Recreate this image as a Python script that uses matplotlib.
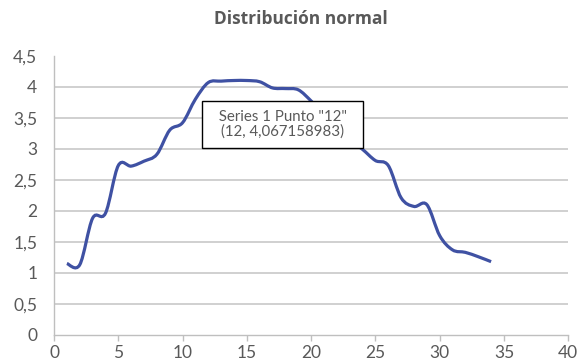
import numpy as np
import matplotlib.pyplot as plt
from matplotlib.path import Path
from matplotlib.patches import PathPatch

# datos de la serie
x = np.arange(1, 35)
y = [1.15, 1.13, 1.88, 1.96, 2.73, 2.72, 2.80, 2.91, 3.30, 3.42,
     3.80, 4.067158983, 4.09, 4.10, 4.10, 4.08, 3.98, 3.97, 3.95, 3.77,
     3.55, 3.35, 3.15, 2.99, 2.81, 2.73, 2.21, 2.07, 2.10, 1.60,
     1.37, 1.33, 1.26, 1.18]
yticks = [0, 0.5, 1, 1.5, 2, 2.5, 3, 3.5, 4, 4.5]
xticks = [0, 5, 10, 15, 20, 25, 30, 35, 40]
sel = 12  # punto con etiqueta

gray = '#595959'
blue = '#3f51a3'
plt.rcParams['font.family'] = ['Lato', 'DejaVu Sans']

fig = plt.figure(figsize=(5.81, 3.64), dpi=100)
ax = fig.add_axes([0.093, 0.080, 0.885, 0.767])

# linea suavizada (bezier tipo catmull-rom, como la de Excel)
pts = np.column_stack([x, y]).astype(float)
verts = [pts[0]]
codes = [Path.MOVETO]
n = len(pts)
for i in range(n - 1):
    p0 = pts[max(i - 1, 0)]
    p1 = pts[i]
    p2 = pts[i + 1]
    p3 = pts[min(i + 2, n - 1)]
    c1 = p1 + (p2 - p0) / 6
    c2 = p2 - (p3 - p1) / 6
    verts += [c1, c2, p2]
    codes += [Path.CURVE4] * 3
ax.add_patch(PathPatch(Path(verts, codes), facecolor='none', edgecolor=blue,
                       lw=2.3, capstyle='butt', zorder=3))

ax.set_xlim(0, 40)
ax.set_ylim(0, 4.5)
ax.set_xticks(xticks)
ax.set_yticks(yticks)
ax.set_xticklabels([str(v) for v in xticks])
ax.set_yticklabels([str(v).replace('.', ',') if v % 1 else str(int(v)) for v in yticks])

for v in yticks[1:-1]:
    ax.axhline(v, color='#c4c4c4', lw=1.1, zorder=1)

for s in ['top', 'right']:
    ax.spines[s].set_visible(False)
for s in ['left', 'bottom']:
    ax.spines[s].set_color('#bfbfbf')
    ax.spines[s].set_linewidth(1.0)

ax.tick_params(axis='y', length=0, pad=12, labelsize=12.5, labelcolor=gray)
ax.tick_params(axis='x', length=4, width=1.0, color='#bfbfbf', pad=3,
               labelsize=12.5, labelcolor=gray)

ax.annotate('  Series 1 Punto "12"  \n(12, 4,067158983)', xy=(sel, y[sel - 1]),
            xytext=(53.5, -30), textcoords='offset points', ha='center', va='center',
            fontsize=10.8, color=gray, linespacing=1.05,
            bbox=dict(boxstyle='square,pad=0.6', fc='white', ec='black', lw=1.0),
            zorder=5)

fig.text(0.517, 0.948, 'Distribución normal', ha='center', va='center',
         fontsize=12.5, fontweight='bold', color=gray, family=['Open Sans', 'DejaVu Sans'])

fig.savefig('out.png', dpi=100)
